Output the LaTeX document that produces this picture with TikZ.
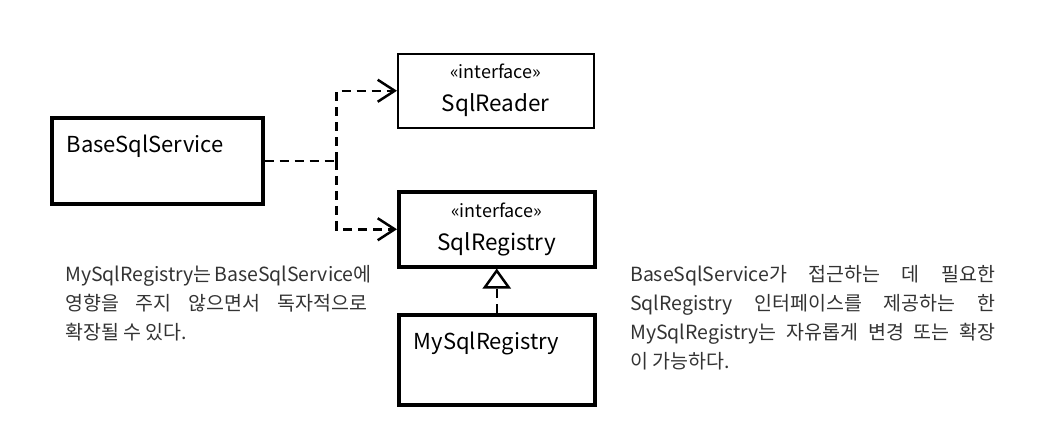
\documentclass[tikz,border=0pt]{standalone}
\usepackage{fontspec}
\setmainfont{Noto Sans CJK KR}
\usetikzlibrary{arrows.meta}
\begin{document}
\begin{tikzpicture}
[
    x=1pt, y=-1pt,
    class/.style={draw, rectangle, line width=3.5pt, inner xsep=15pt, inner ysep=0pt,
        align=left, text width=166pt, font=\fontsize{22}{30}\selectfont},
    iface/.style={draw, rectangle, align=center, minimum width=196pt, inner sep=0pt,
        font=\fontsize{22.5}{33}\selectfont},
    dep/.style={line width=2.5pt, dash pattern=on 9pt off 6pt,
        -{Straight Barb[length=17pt, width=22pt, line width=2.5pt]}},
    impl/.style={line width=2.5pt, dash pattern=on 9pt off 6pt,
        -{Triangle[open, length=20pt, width=28pt, line width=2.5pt]}},
    note/.style={inner sep=0pt, align=left, text=black!80, font=\fontsize{19.5}{29}\selectfont},
]
\useasboundingbox (0,0) rectangle (1052,424);
\node[class, anchor=north west, text width=181pt, text height=35pt, text depth=51pt]
    (base) at (50,116) {BaseSqlService};
\node[iface, anchor=north west, line width=1.5pt, minimum height=74pt]
    (reader) at (397,53) {{\fontsize{18}{33}\selectfont «interface»}\\SqlReader};
\node[iface, anchor=north west, line width=3.5pt, minimum height=75pt]
    (registry) at (397,190) {{\fontsize{18}{33}\selectfont «interface»}\\SqlRegistry};
\node[class, anchor=north west, text height=35pt, text depth=55pt]
    (mysql) at (397,313) {MySqlRegistry};
% dependencies
\draw[line width=2.5pt, dash pattern=on 9pt off 6pt] (base.east) -- ++(72,0) coordinate (split);
\draw[dep] (split) |- (reader.west);
\draw[dep] (split) |- (registry.west);
\draw[impl] (mysql.north) -- (registry.south);
% notes
\node[note, anchor=north west] (leftnote) at (65,265)
    {\makebox[302pt][s]{MySqlRegistry는 BaseSqlService에}\\
     \makebox[302pt][s]{영향을 주지 않으면서 독자적으로}\\
     확장될 수 있다.};
\node[note, anchor=north west] (rightnote) at (630,265)
    {\makebox[365pt][s]{BaseSqlService가 접근하는 데 필요한}\\
     \makebox[365pt][s]{SqlRegistry 인터페이스를 제공하는 한}\\
     \makebox[365pt][s]{MySqlRegistry는 자유롭게 변경 또는 확장}\\
     이 가능하다.};
\end{tikzpicture}
\end{document}
